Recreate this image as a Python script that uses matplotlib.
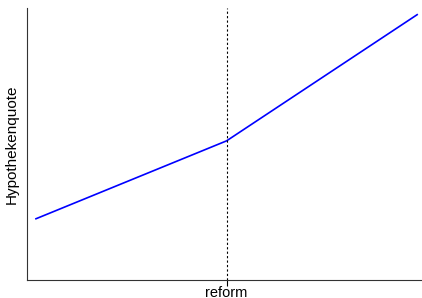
import matplotlib
matplotlib.use('Agg')
import matplotlib.pyplot as plt

x = [-1.0, 0.0, 1.0]
quote = [1.0, 2.0, 3.62]
reform_x = 0.0

plt.rcParams['font.family'] = ['Liberation Sans', 'DejaVu Sans']

fig = plt.figure(figsize=(4.22, 2.98), dpi=100)
ax = fig.add_axes([0.064, 0.062, 0.934, 0.911])
ax.plot(x, quote, color='blue', linewidth=1.2)
ax.axvline(reform_x, color='black', linestyle=(0, (2, 2)), linewidth=0.8)

ax.set_xlim(-1.047, 1.021)
ax.set_ylim(0.22, 3.705)
ax.set_xticks([reform_x])
ax.set_xticklabels(['reform'], fontsize=10.5)
ax.set_yticks([])
ax.tick_params(axis='x', length=4, width=0.8, pad=1)
ax.set_ylabel('Hypothekenquote', fontsize=11, labelpad=6)
for s in ['top', 'right']:
    ax.spines[s].set_visible(False)
for s in ['left', 'bottom']:
    ax.spines[s].set_linewidth(0.8)
    ax.spines[s].set_color('#333333')

fig.savefig('out.png', dpi=100)
